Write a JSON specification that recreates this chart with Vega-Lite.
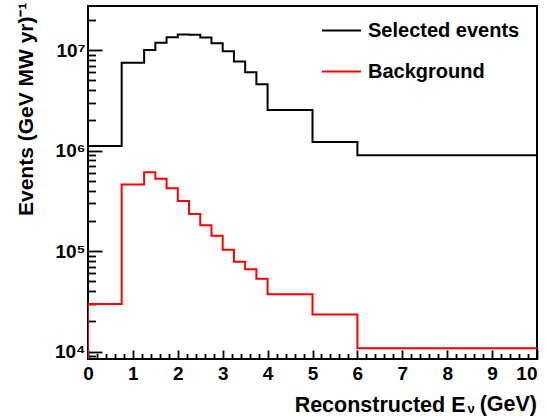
{
  "$schema": "https://vega.github.io/schema/vega-lite/v6.json",
  "width": 449,
  "height": 353,
  "autosize": {"type": "none"},
  "padding": {"left": 88, "top": 6, "right": 10, "bottom": 57},
  "background": "white",
  "config": {
    "view": {"stroke": "black", "strokeWidth": 2},
    "font": "Liberation Sans",
    "axis": {
      "tickColor": "black",
      "tickWidth": 1.8,
      "domain": false,
      "grid": false,
      "labelOverlap": false,
      "labelBound": false,
      "labelFlush": false,
      "labelFont": "Liberation Sans",
      "labelFontWeight": "bold",
      "labelColor": "black",
      "titleFont": "Liberation Sans",
      "titleFontWeight": "bold",
      "titleColor": "black"
    }
  },
  "data": {
    "values": [
      {"s": "Selected events", "i": 0, "e": 0, "v": 1},
      {"s": "Selected events", "i": 1, "e": 0, "v": 1110000},
      {"s": "Selected events", "i": 2, "e": 0.75, "v": 7480000},
      {"s": "Selected events", "i": 3, "e": 1.25, "v": 10000000},
      {"s": "Selected events", "i": 4, "e": 1.5, "v": 11800000},
      {"s": "Selected events", "i": 5, "e": 1.75, "v": 13400000},
      {"s": "Selected events", "i": 6, "e": 2.0, "v": 14300000},
      {"s": "Selected events", "i": 7, "e": 2.25, "v": 14200000},
      {"s": "Selected events", "i": 8, "e": 2.5, "v": 13300000},
      {"s": "Selected events", "i": 9, "e": 2.75, "v": 11700000},
      {"s": "Selected events", "i": 10, "e": 3.0, "v": 9700000},
      {"s": "Selected events", "i": 11, "e": 3.25, "v": 7700000},
      {"s": "Selected events", "i": 12, "e": 3.5, "v": 6000000},
      {"s": "Selected events", "i": 13, "e": 3.75, "v": 4560000},
      {"s": "Selected events", "i": 14, "e": 4, "v": 2530000},
      {"s": "Selected events", "i": 15, "e": 5, "v": 1220000},
      {"s": "Selected events", "i": 16, "e": 6, "v": 897000},
      {"s": "Selected events", "i": 17, "e": 10, "v": 897000},
      {"s": "Background", "i": 0, "e": 0, "v": 1},
      {"s": "Background", "i": 1, "e": 0, "v": 29800},
      {"s": "Background", "i": 2, "e": 0.75, "v": 461000},
      {"s": "Background", "i": 3, "e": 1.25, "v": 608000},
      {"s": "Background", "i": 4, "e": 1.5, "v": 525000},
      {"s": "Background", "i": 5, "e": 1.75, "v": 421000},
      {"s": "Background", "i": 6, "e": 2.0, "v": 315000},
      {"s": "Background", "i": 7, "e": 2.25, "v": 234000},
      {"s": "Background", "i": 8, "e": 2.5, "v": 181000},
      {"s": "Background", "i": 9, "e": 2.75, "v": 142000},
      {"s": "Background", "i": 10, "e": 3.0, "v": 103000},
      {"s": "Background", "i": 11, "e": 3.25, "v": 78500},
      {"s": "Background", "i": 12, "e": 3.5, "v": 66000},
      {"s": "Background", "i": 13, "e": 3.75, "v": 53200},
      {"s": "Background", "i": 14, "e": 4, "v": 37200},
      {"s": "Background", "i": 15, "e": 5, "v": 23500},
      {"s": "Background", "i": 16, "e": 6, "v": 10800},
      {"s": "Background", "i": 17, "e": 10, "v": 10800}
    ]
  },
  "resolve": {"axis": {"x": "independent", "y": "independent"}},
  "layer": [
    {
      "mark": {"type": "line", "interpolate": "step-after", "strokeOpacity": 0, "clip": true},
      "encoding": {
        "x": {
          "field": "e",
          "type": "quantitative",
          "scale": {"domain": [0, 10], "nice": false, "zero": false},
          "axis": {
            "orient": "bottom",
            "title": null,
            "labels": false,
            "values": [0.2, 0.4, 0.6, 0.8, 1.2, 1.4, 1.6, 1.8, 2.2, 2.4, 2.6, 2.8, 3.2, 3.4, 3.6, 3.8, 4.2, 4.4, 4.6, 4.8, 5.2, 5.4, 5.6, 5.8, 6.2, 6.4, 6.6, 6.8, 7.2, 7.4, 7.6, 7.8, 8.2, 8.4, 8.6, 8.8, 9.2, 9.4, 9.6, 9.8],
            "offset": -5.5,
            "tickSize": 5.5
          }
        },
        "y": {
          "field": "v",
          "type": "quantitative",
          "scale": {"type": "log", "domain": [8460, 27400000], "nice": false},
          "axis": {
            "orient": "left",
            "title": null,
            "labels": false,
            "values": [9000, 20000, 30000, 40000, 50000, 60000, 70000, 80000, 90000, 200000, 300000, 400000, 500000, 600000, 700000, 800000, 900000, 2000000, 3000000, 4000000, 5000000, 6000000, 7000000, 8000000, 9000000, 20000000],
            "offset": -7.5,
            "tickSize": 7.5
          }
        },
        "order": {"field": "i", "type": "quantitative"},
        "detail": {"field": "s", "type": "nominal"}
      }
    },
    {
      "mark": {"type": "line", "interpolate": "step-after", "strokeWidth": 2, "clip": true},
      "encoding": {
        "x": {
          "field": "e",
          "type": "quantitative",
          "scale": {"domain": [0, 10], "nice": false, "zero": false},
          "axis": {
            "orient": "bottom",
            "title": "Reconstructed E",
            "values": [0, 1, 2, 3, 4, 5, 6, 7, 8, 9, 10],
            "format": "d",
            "offset": -9,
            "tickSize": 9,
            "labelAlign": {"condition": {"test": "datum.value == 10", "value": "right"}, "value": "center"},
            "labelFontSize": 19,
            "labelPadding": 5,
            "titleFontSize": 21.5,
            "titleAnchor": "end",
            "titleAlign": "right",
            "titleBaseline": "alphabetic",
            "titleX": 377,
            "titleY": 61
          }
        },
        "y": {
          "field": "v",
          "type": "quantitative",
          "scale": {"type": "log", "domain": [8460, 27400000], "nice": false},
          "axis": {
            "orient": "left",
            "title": "Events (GeV MW yr)⁻¹",
            "values": [10000, 100000, 1000000, 10000000],
            "labelExpr": "datum.value == 10000 ? '10⁴' : datum.value == 100000 ? '10⁵' : datum.value == 1000000 ? '10⁶' : '10⁷'",
            "offset": -14,
            "tickSize": 14,
            "labelFontSize": 19,
            "labelPadding": 3,
            "titleFontSize": 21,
            "titleAngle": 270,
            "titleAlign": "right",
            "titleBaseline": "alphabetic",
            "titleX": -70,
            "titleY": -4
          }
        },
        "color": {
          "field": "s",
          "type": "nominal",
          "scale": {"domain": ["Selected events", "Background"], "range": ["#000000", "#ff0000"]},
          "legend": {
            "orient": "none",
            "legendX": 233,
            "legendY": 4,
            "title": null,
            "symbolType": "stroke",
            "symbolSize": 1521,
            "symbolStrokeWidth": 2,
            "labelFont": "Liberation Sans",
            "labelFontWeight": "bold",
            "labelFontSize": 20,
            "labelColor": "black",
            "labelOffset": 6,
            "labelLimit": 300,
            "rowPadding": 10,
            "padding": 0
          }
        },
        "order": {"field": "i", "type": "quantitative"}
      }
    },
    {
      "data": {"values": [{"t": "ν"}]},
      "mark": {"type": "text", "font": "Liberation Sans", "fontWeight": "bold", "fontSize": 13, "color": "black", "baseline": "middle", "align": "center", "dy": 50},
      "encoding": {
        "text": {"field": "t", "type": "nominal"},
        "x": {"datum": 8.53, "axis": null},
        "y": {"datum": 8460, "axis": null}
      }
    },
    {
      "data": {"values": [{"t": "(GeV)"}]},
      "mark": {"type": "text", "font": "Liberation Sans", "fontWeight": "bold", "fontSize": 21.5, "color": "black", "baseline": "alphabetic", "align": "right", "dy": 52},
      "encoding": {
        "text": {"field": "t", "type": "nominal"},
        "x": {"datum": 10, "axis": null},
        "y": {"datum": 8460, "axis": null}
      }
    }
  ]
}
